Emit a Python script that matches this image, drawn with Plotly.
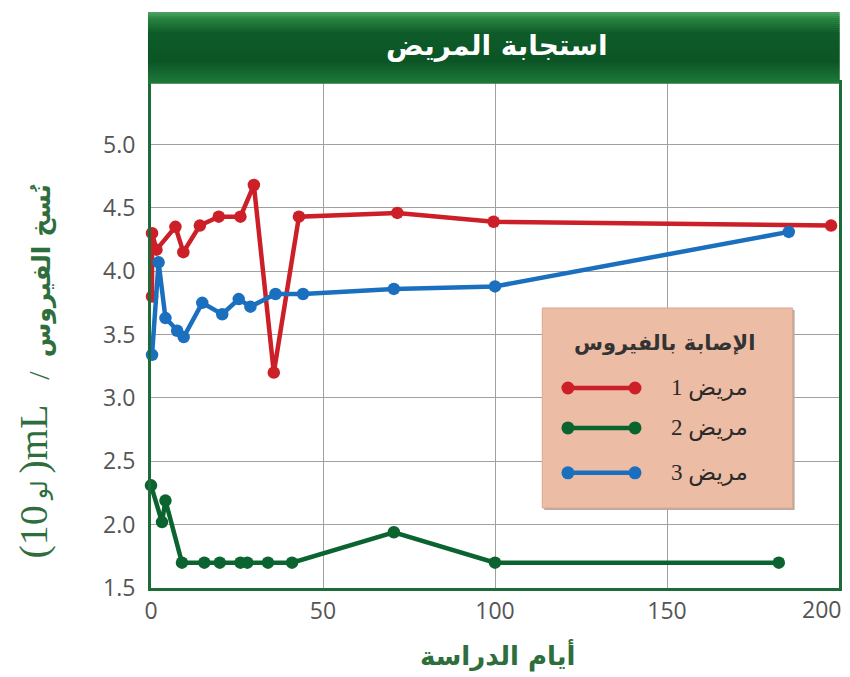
import plotly.graph_objects as go

# ---- data ----
p1_days = [0.3, 0.3, 1.6, 7.1, 9.4, 14.2, 19.7, 26.0, 29.9, 35.7, 43.0, 71.6, 99.6, 197.7]
p1_vals = [3.80, 4.30, 4.17, 4.35, 4.15, 4.36, 4.43, 4.43, 4.68, 3.20, 4.43, 4.46, 4.39, 4.36]

p2_days = [0.0, 3.2, 4.2, 9.0, 15.5, 20.0, 26.0, 28.0, 34.0, 41.0, 70.6, 100.0, 182.5]
p2_vals = [2.31, 2.02, 2.19, 1.70, 1.70, 1.70, 1.70, 1.70, 1.70, 1.70, 1.94, 1.70, 1.70]

p3_days = [0.3, 2.2, 4.2, 7.6, 9.5, 14.9, 20.7, 25.5, 28.9, 36.2, 44.2, 70.6, 100.0, 185.4]
p3_vals = [3.34, 4.07, 3.63, 3.53, 3.48, 3.75, 3.66, 3.78, 3.72, 3.82, 3.82, 3.86, 3.88, 4.31]

series_names = ["مريض 1", "مريض 2", "مريض 3"]
series_colors = ["#cc1f27", "#0b6430", "#1b6fbf"]

x_ticks = [0, 50, 100, 150, 200]
x_ticktext = ["0", "50", "100", "150", "200"]
y_ticks = [1.5, 2.0, 2.5, 3.0, 3.5, 4.0, 4.5, 5.0]
y_ticktext = ["1.5", "2.0", "2.5", "3.0", "3.5", "4.0", "4.5", "5.0"]

title_text = "استجابة المريض"
x_title = "أيام الدراسة"
legend_title = "الإصابة بالفيروس"
# y-axis title pieces, bottom to top
y_title_parts = ["(10", "لو", ")mL", "/", "نُسخ الفيروس"]

fig = go.Figure()
for days, vals, name, col in zip([p1_days, p2_days, p3_days],
                                 [p1_vals, p2_vals, p3_vals],
                                 series_names, series_colors):
    fig.add_trace(go.Scatter(
        x=days, y=vals, mode="lines+markers", name=name,
        line=dict(color=col, width=4.5),
        marker=dict(color=col, size=12.5),
        showlegend=False, cliponaxis=False))

AXIS_GREEN = "#1d6b36"
TICK_FONT = dict(family="Open Sans, Liberation Sans, sans-serif", size=23, color="#555555")

# last x label sits at the page edge; it is drawn right-aligned as an annotation below
fig.update_xaxes(range=[0, 200], tickvals=x_ticks, ticktext=x_ticktext[:-1] + [""],
                 showgrid=True, gridcolor="#a0a0a0",
                 gridwidth=1, zeroline=False, showline=True, linecolor=AXIS_GREEN,
                 linewidth=3, mirror=True, ticks="", tickfont=TICK_FONT,
                 ticklabeloverflow="allow", automargin=False)
fig.update_yaxes(range=[1.5, 5.485], tickvals=y_ticks, ticktext=y_ticktext, showgrid=True,
                 gridcolor="#a0a0a0", gridwidth=1, zeroline=False, showline=True,
                 linecolor=AXIS_GREEN, linewidth=3, mirror=True, ticks="",
                 tickfont=TICK_FONT, ticklabelstandoff=8, automargin=False)


def hex2rgb(h):
    h = h.lstrip("#")
    return tuple(int(h[i:i + 2], 16) for i in (0, 2, 4))


def grad(stops, t):
    for (t0, c0), (t1, c1) in zip(stops, stops[1:]):
        if t0 <= t <= t1:
            f = (t - t0) / (t1 - t0) if t1 > t0 else 0
            a, b = hex2rgb(c0), hex2rgb(c1)
            return "rgb(%d,%d,%d)" % tuple(round(a[k] + (b[k] - a[k]) * f) for k in range(3))
    return stops[-1][1]


shapes = []
# title banner: smooth vertical gradient made of thin strips
banner_stops = [(0.0, "#4fa565"), (0.1, "#27833f"), (0.3, "#0e5b29"), (0.7, "#0c5526"),
                (1.0, "#1f7a3a")]
y_top, y_bot = 1.1406, 1.0
n = 35
for i in range(n):
    c = grad(banner_stops, (i + 0.5) / n)
    y1 = y_top - (y_top - y_bot) * i / n
    y0 = y_top - (y_top - y_bot) * (i + 1) / n
    shapes.append(dict(type="rect", xref="paper", yref="paper", x0=-0.0044, x1=1.001,
                       y0=y0 - 0.0015, y1=y1, fillcolor=c, line=dict(width=0), layer="above"))

# legend box
shapes.append(dict(type="rect", xref="paper", yref="paper", x0=0.5715, x1=0.9355,
                   y0=0.1545, y1=0.5505, fillcolor="#bcaaa0", line=dict(width=0), layer="above"))
shapes.append(dict(type="rect", xref="paper", yref="paper", x0=0.5687, x1=0.9326,
                   y0=0.1584, y1=0.5545, fillcolor="#edbca4", line=dict(color="#d9a890", width=1),
                   layer="above"))
legend_rows_y = [0.396, 0.317, 0.228]
lx0, lx1 = 0.606, 0.7035
for yy, col in zip(legend_rows_y, series_colors):
    shapes.append(dict(type="line", xref="paper", yref="paper", x0=lx0, x1=lx1, y0=yy, y1=yy,
                       line=dict(color=col, width=4.5), layer="above"))
    for xx in (lx0, lx1):
        shapes.append(dict(type="circle", xref="paper", yref="paper", xsizemode="pixel",
                           ysizemode="pixel", xanchor=xx, yanchor=yy, x0=-6.5, x1=6.5,
                           y0=-6.5, y1=6.5, fillcolor=col, line=dict(width=0), layer="above"))

GREEN_TXT = "#2e6e3c"
C = dict(xanchor="center", yanchor="middle", showarrow=False, xref="paper", yref="paper")
annotations = [
    dict(text="<b>" + title_text + "</b>", x=0.503, y=1.0733,
         font=dict(family="DejaVu Sans", size=28, color="white"), **C),
    dict(text="<b>" + x_title + "</b>", x=0.503, y=-0.1327,
         font=dict(family="DejaVu Sans", size=26, color=GREEN_TXT), **C),
    dict(text="<b>" + legend_title + "</b>", x=0.747, y=0.485,
         font=dict(family="DejaVu Sans", size=21, color="#333333"), **C),
    dict(text=x_ticktext[-1], x=x_ticks[-1], xref="x", yref="paper", y=-0.0416,
         xanchor="right", yanchor="middle", xshift=4, showarrow=False, font=TICK_FONT),
]
# y-axis title pieces (rotated), positioned bottom to top
y_title_y = [0.1099, 0.1941, 0.2941, 0.4218, 0.6277]
y_title_x = [-0.1715, -0.161, -0.1715, -0.163, -0.158]
y_title_fam = ["Liberation Serif", "DejaVu Sans", "Liberation Serif", "Liberation Serif",
               "DejaVu Sans"]
y_title_size = [40, 23, 40, 30, 25]
y_title_bold = [False, False, False, False, True]
for part, yy, xx, fam, sz, bold in zip(y_title_parts, y_title_y, y_title_x, y_title_fam,
                                       y_title_size, y_title_bold):
    annotations.append(dict(text=("<b>%s</b>" % part) if bold else part, x=xx, y=yy,
                            textangle=-90,
                            font=dict(family=fam, size=sz, color=GREEN_TXT), **C))

for yy, name in zip(legend_rows_y, series_names):
    annotations.append(dict(text=name, xref="paper", yref="paper", x=0.8706, y=yy,
                            xanchor="right", yanchor="middle", showarrow=False,
                            font=dict(family="Liberation Serif, DejaVu Sans", size=23,
                                      color="#2a2a2a")))

fig.update_layout(width=842, height=669, margin=dict(l=143, r=11, t=75, b=89, autoexpand=False),
                  paper_bgcolor="white", plot_bgcolor="white",
                  shapes=shapes, annotations=annotations, showlegend=False)

fig.write_html("out.html")
